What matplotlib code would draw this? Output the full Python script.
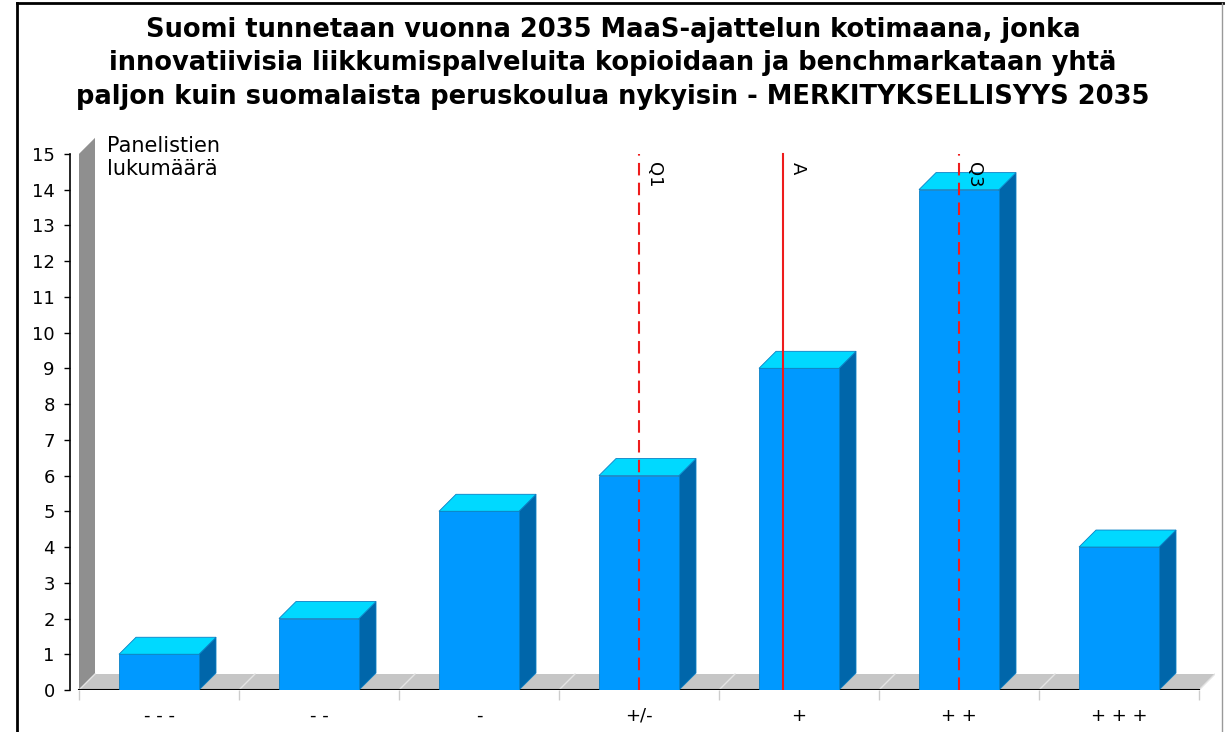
import matplotlib
matplotlib.use("Agg")
import matplotlib.pyplot as plt
import numpy as np
from matplotlib.patches import Polygon, Rectangle
from matplotlib.lines import Line2D

# data
title_lines = [
    "Suomi tunnetaan vuonna 2035 MaaS-ajattelun kotimaana, jonka",
    "innovatiivisia liikkumispalveluita kopioidaan ja benchmarkataan yhtä",
    "paljon kuin suomalaista peruskoulua nykyisin - MERKITYKSELLISYYS 2035",
]
categories = ["- - -", "- -", "-", "+/-", "+", "+ +", "+ + +"]
counts = [1, 2, 5, 6, 9, 14, 4]
marker_names = ["Q1", "A", "Q3"]
marker_values = [4, 4.9, 6]      # position on the 1..7 scale
marker_styles = ["--", "-", "--"]
ylabel = "Panelistien\nlukumäärä"

# colours
front_col = "#0099ff"
top_col = "#00d9ff"
side_col = "#0066aa"
edge_col = "#0a80c4"
wall_col = "#8f8f8f"
floor_col = "#c6c6c6"
line_col = "#ee1c1c"

W, H = 1226, 732
fig = plt.figure(figsize=(W / 100, H / 100), dpi=100)
ax = fig.add_axes([70 / W, 42 / H, (1215 - 70) / W, (690 - 136) / H])
xmin, xmax = -0.55625, 6.6
ymin, ymax = 0, 15.5
ax.set_xlim(xmin, xmax)
ax.set_ylim(ymin, ymax)

# pixel -> data conversion for the 3D depth
px_x = (1215 - 70) / (xmax - xmin)
px_y = (690 - 136) / (ymax - ymin)
wdx, wdy = 16 / px_x, 16 / px_y
bdx, bdy = 17 / px_x, 17 / px_y

n = len(categories)
left, right = -0.5, n - 0.5

# wall
ax.add_patch(Polygon([(left, 0), (left, 15), (left + wdx, 15 + wdy), (left + wdx, wdy)],
                     closed=True, facecolor=wall_col, edgecolor="none", zorder=1))
# floor
ax.add_patch(Polygon([(left, 0), (right, 0), (right + wdx, wdy), (left + wdx, wdy)],
                     closed=True, facecolor=floor_col, edgecolor="none", zorder=1))
for b in np.arange(left, right + 0.1, 1.0):
    ax.plot([b, b + wdx], [0, wdy], color="#e4e4e4", lw=1, zorder=1.5)
ax.plot([left, right], [0, 0], color="black", lw=1.5, zorder=2)

# bars
w = 0.25
for i, v in enumerate(counts):
    ax.add_patch(Polygon([(i + w, 0), (i + w + bdx, bdy), (i + w + bdx, v + bdy), (i + w, v)],
                         closed=True, facecolor=side_col, edgecolor=edge_col, lw=0.6, zorder=3))
    ax.add_patch(Rectangle((i - w, 0), 2 * w, v, facecolor=front_col,
                           edgecolor=edge_col, lw=0.6, zorder=3))
    ax.add_patch(Polygon([(i - w, v), (i + w, v), (i + w + bdx, v + bdy), (i - w + bdx, v + bdy)],
                         closed=True, facecolor=top_col, edgecolor=edge_col, lw=0.6, zorder=3))

# Q1 / A / Q3 lines
for name, val, ls in zip(marker_names, marker_values, marker_styles):
    x = val - 1
    if ls == "--":
        ax.plot([x, x], [0, 15], color=line_col, lw=1.5, dashes=(6, 3.5), zorder=5)
    else:
        ax.plot([x, x], [0, 15], color=line_col, lw=1.5, zorder=5)
    ax.annotate(name, (x, 15), xytext=(4, -6), textcoords="offset points",
                rotation=-90, ha="left", va="top", fontsize=13, zorder=6)

# axes styling
for s in ["top", "right", "bottom"]:
    ax.spines[s].set_visible(False)
ax.spines["left"].set_bounds(0, 15)
ax.spines["left"].set_linewidth(1.2)
ax.set_yticks(range(16))
ax.tick_params(axis="y", length=4, width=1, labelsize=13, pad=7)
ax.set_xticks(range(n))
ax.set_xticklabels(categories)
ax.set_xticks(np.arange(left, right + 0.1, 1.0), minor=True)
ax.tick_params(axis="x", which="major", length=0, pad=12, labelsize=13)
ax.tick_params(axis="x", which="minor", length=7, width=1, color="#cccccc")

# title and axis label
for k, line in enumerate(title_lines):
    fig.text(0.5, 1 - (30 + 33.5 * k) / H, line, ha="center", va="center",
             fontsize=18.5, fontweight="bold")
fig.text(107 / W, 1 - 136 / H, ylabel, ha="left", va="top", fontsize=15)

# outer frame
fig.add_artist(Line2D([17 / W, 1223 / W], [1 - 3 / H, 1 - 3 / H], color="black", lw=2,
                      transform=fig.transFigure))
fig.add_artist(Line2D([17 / W, 17 / W], [0, 1 - 3 / H], color="black", lw=2,
                      transform=fig.transFigure))
fig.add_artist(Line2D([1222 / W, 1222 / W], [0, 1 - 3 / H], color="#999999", lw=1,
                      transform=fig.transFigure))

fig.savefig("out.png", dpi=100)
